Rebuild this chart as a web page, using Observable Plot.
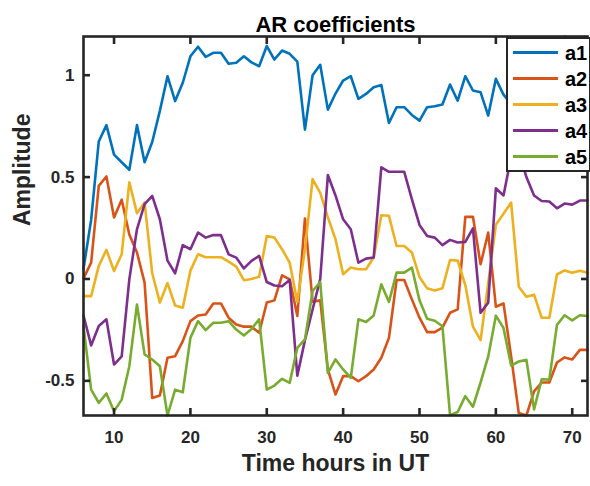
<!DOCTYPE html>
<html>
<head>
<meta charset="utf-8">
<script src="https://cdn.jsdelivr.net/npm/d3@7"></script>
<script src="https://cdn.jsdelivr.net/npm/@observablehq/plot@0.6"></script>
<style>
  body { margin: 0; background: #fff; }
  #wrap { position: relative; width: 590px; height: 486px; font-family: "Liberation Sans", Arial, sans-serif; }
  #legend { position: absolute; left: 506px; top: 37px; width: 81px; height: 131px; background: #fff; border: 2px solid #262626; box-sizing: content-box; }
  .item { position: absolute; left: 0; height: 26px; width: 100%; }
  .sw { position: absolute; left: 5px; top: 11px; width: 45px; height: 3px; }
  .lab { position: absolute; left: 57px; top: 0; line-height: 26px; font-size: 20px; font-weight: bold; color: #000; }
</style>
</head>
<body>
<div id="wrap"></div>
<script>
const hours = [6,7,8,9,10,11,12,13,14,15,16,17,18,19,20,21,22,23,24,25,26,27,28,29,30,31,32,33,34,35,36,37,38,39,40,41,42,43,44,45,46,47,48,49,50,51,52,53,54,55,56,57,58,59,60,61,62,63,64,65,66,67,68,69,70,71,72];

const a1 = [0.05,0.29,0.675,0.755,0.61,0.573,0.536,0.755,0.573,0.672,0.825,0.995,0.873,0.963,1.093,1.14,1.09,1.11,1.11,1.056,1.061,1.093,1.063,1.044,1.143,1.077,1.121,1.105,1.067,0.733,1.0,1.051,0.831,0.91,0.974,0.995,0.884,0.908,0.941,0.952,0.766,0.843,0.843,0.805,0.777,0.843,0.848,0.856,0.954,0.875,0.995,0.925,0.916,0.802,0.982,0.905,0.86,0.95,1.0,1.05,1.0,1.08,1.12,1.19,1.1,1.05,1.08];
const a2 = [0.003,0.08,0.457,0.503,0.302,0.389,0.218,0.13,-0.018,-0.584,-0.572,-0.387,-0.379,-0.305,-0.207,-0.179,-0.174,-0.12,-0.12,-0.19,-0.223,-0.234,-0.234,-0.264,-0.116,-0.105,0.018,-0.002,-0.182,0.297,-0.111,-0.105,-0.444,-0.567,-0.477,-0.477,-0.502,-0.477,-0.444,-0.387,-0.289,-0.005,-0.005,-0.1,-0.19,-0.261,-0.261,-0.239,-0.166,-0.149,0.305,0.305,0.072,0.228,-0.136,-0.12,-0.38,-0.658,-0.67,-0.552,-0.508,-0.508,-0.41,-0.385,-0.395,-0.348,-0.348];
const a3 = [-0.084,-0.084,0.064,0.143,0.039,0.121,0.474,0.323,0.375,0.028,-0.116,-0.02,-0.13,-0.141,0.041,0.121,0.107,0.107,0.107,0.085,0.061,-0.006,0.0,0.011,0.211,0.203,0.146,0.08,-0.113,0.146,0.49,0.423,0.302,0.195,0.023,0.056,0.048,0.048,0.105,0.313,0.31,0.162,0.162,0.13,0.01,-0.046,-0.057,-0.046,0.093,0.09,-0.03,-0.234,-0.3,-0.02,0.266,0.32,0.375,-0.038,-0.087,-0.077,-0.19,-0.19,0.022,0.042,0.031,0.04,0.031];
const a4 = [-0.179,-0.326,-0.231,-0.198,-0.42,-0.38,-0.002,0.244,0.367,0.408,0.293,0.09,0.028,0.166,0.146,0.228,0.203,0.216,0.215,0.121,0.105,0.052,0.089,0.113,-0.015,-0.032,-0.036,-0.005,-0.475,-0.3,-0.15,0.0,0.51,0.41,0.293,0.244,0.08,0.1,0.105,0.548,0.526,0.526,0.526,0.392,0.265,0.211,0.203,0.166,0.192,0.179,0.182,0.248,-0.166,-0.116,0.445,0.41,0.6,0.63,0.5,0.41,0.383,0.38,0.347,0.37,0.365,0.385,0.385];
const a5 = [-0.231,-0.543,-0.608,-0.562,-0.649,-0.592,-0.428,-0.125,-0.37,-0.395,-0.428,-0.67,-0.543,-0.556,-0.289,-0.207,-0.251,-0.215,-0.215,-0.207,-0.248,-0.277,-0.245,-0.198,-0.543,-0.523,-0.49,-0.51,-0.338,-0.297,-0.059,-0.015,-0.461,-0.395,-0.444,-0.485,-0.198,-0.211,-0.179,-0.026,-0.113,0.031,0.031,0.056,-0.105,-0.195,-0.205,-0.232,-0.668,-0.653,-0.575,-0.627,-0.508,-0.38,-0.18,-0.24,-0.425,-0.405,-0.397,-0.64,-0.492,-0.494,-0.225,-0.178,-0.203,-0.178,-0.182];

const seriesNames = ["a1","a2","a3","a4","a5"];
const seriesValues = [a1, a2, a3, a4, a5];
const colors = ["#0072BD","#D95319","#EDB120","#7E2F8E","#77AC30"];
const xTicks = [10,20,30,40,50,60,70];
const yTicks = [-0.5,0,0.5,1];
const titleText = "AR coefficients";
const xLabel = "Time hours in UT";
const yLabel = "Amplitude";

const data = [];
seriesNames.forEach((name, i) => {
  hours.forEach((h, j) => data.push({hour: h, value: seriesValues[i][j], name}));
});

const axisColor = "#262626";
const chart = Plot.plot({
  width: 590,
  height: 486,
  marginLeft: 83,
  marginRight: 3,
  marginTop: 36,
  marginBottom: 71,
  style: {fontFamily: "'Liberation Sans', Arial, sans-serif", fontWeight: "bold", fontSize: "17px", color: axisColor, background: "#fff"},
  x: {domain: [6, 72]},
  y: {domain: [-0.67, 1.19]},
  color: {domain: seriesNames, range: colors},
  marks: [
    Plot.line(data, {x: "hour", y: "value", z: "name", stroke: "name", strokeWidth: 2.6, strokeLinejoin: "round"}),
    Plot.frame({stroke: axisColor, strokeWidth: 2.6}),
    Plot.axisX({anchor: "bottom", ticks: xTicks, tickSize: -7, tickPadding: 22, strokeWidth: 2.6, label: null, fontSize: 17, fontWeight: "bold", fill: axisColor}),
    Plot.axisX({anchor: "top", ticks: xTicks, tickSize: -7, tickFormat: () => "", strokeWidth: 2.6, label: null}),
    Plot.axisY({anchor: "left", ticks: yTicks, tickSize: -7, tickPadding: 16, tickFormat: d => String(d), strokeWidth: 2.6, label: null, fontSize: 17, fontWeight: "bold", fill: axisColor}),
    Plot.axisY({anchor: "right", ticks: yTicks, tickSize: -7, tickFormat: () => "", strokeWidth: 2.6, label: null}),
    Plot.text([titleText], {text: d => d, frameAnchor: "top", dy: -20, fontSize: 22, fontWeight: "bold", fill: "#000"}),
    Plot.text([xLabel], {text: d => d, frameAnchor: "bottom", dy: 55, fontSize: 23, fontWeight: "bold", fill: axisColor}),
    Plot.text([yLabel], {text: d => d, frameAnchor: "left", dx: -61, rotate: -90, fontSize: 23, fontWeight: "bold", fill: axisColor})
  ]
});

const wrap = document.getElementById("wrap");
wrap.appendChild(chart);

const legend = document.createElement("div");
legend.id = "legend";
seriesNames.forEach((name, i) => {
  const item = document.createElement("div");
  item.className = "item";
  item.style.top = (1 + i * 26) + "px";
  const sw = document.createElement("div");
  sw.className = "sw";
  sw.style.background = colors[i];
  const lab = document.createElement("div");
  lab.className = "lab";
  lab.textContent = name;
  item.appendChild(sw);
  item.appendChild(lab);
  legend.appendChild(item);
});
wrap.appendChild(legend);
</script>
</body>
</html>
